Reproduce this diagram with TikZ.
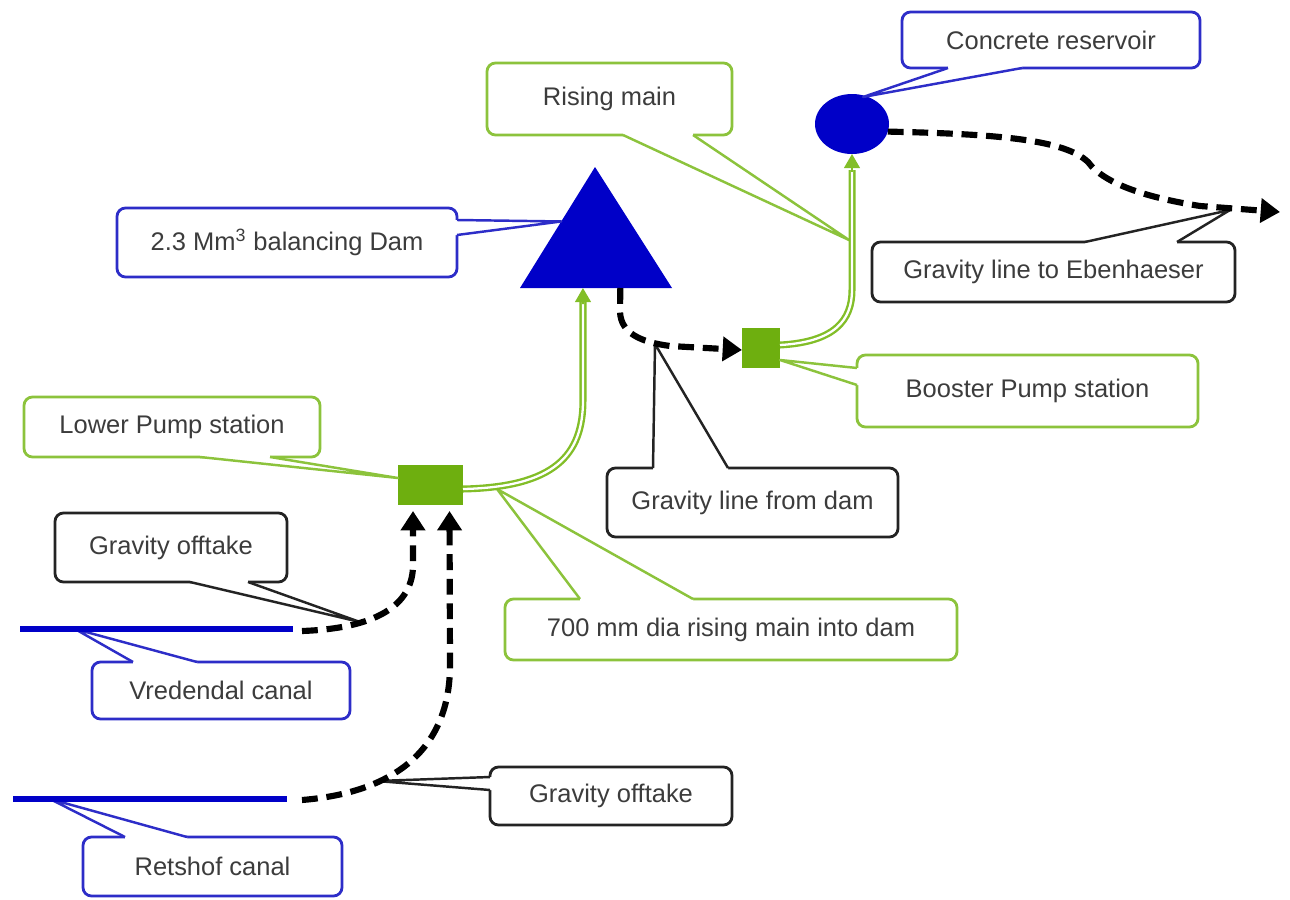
\documentclass[tikz,border=0pt]{standalone}
\usepackage{fontspec}
\setmainfont{Liberation Sans}
\usetikzlibrary{arrows.meta,calc,shapes.geometric}
\definecolor{lblblue}{RGB}{45,45,200}
\definecolor{damblue}{RGB}{0,0,200}
\definecolor{lblgreen}{RGB}{140,195,60}
\definecolor{pipegreen}{RGB}{130,190,40}
\definecolor{pumpgreen}{RGB}{110,175,15}
\definecolor{lblblack}{RGB}{35,35,35}
\definecolor{txt}{RGB}{60,60,60}
\newcommand{\mklbl}[6]{\node[lbl,draw=#1,minimum width=#4*0.02cm,minimum height=#5*0.02cm] (#2) at (#3) {#6};}
\newcommand{\mkptr}[7]{%
 \fill[white] ([shift={#4}]#2.#3) -- (#6) -- ([shift={#5}]#2.#3) -- ([shift={#5},shift={#7}]#2.#3) -- ([shift={#4},shift={#7}]#2.#3) -- cycle;
 \draw[#1,ptrline] ([shift={#4}]#2.#3) -- (#6) -- ([shift={#5}]#2.#3);}
\begin{document}
\begin{tikzpicture}[x=0.02cm,y=-0.02cm,
  lbl/.style={rectangle, rounded corners=0.17cm, line width=1.6pt, fill=white, inner sep=0pt, outer sep=0pt, text=txt, font=\fontsize{14.5}{17}\selectfont},
  ptrline/.style={line width=1.4pt, line join=round},
  pump/.style={rectangle, fill=pumpgreen, inner sep=0pt, outer sep=0pt},
  pipe/.style={draw=pipegreen, line width=1.35pt, double=white, double distance=1.3pt},
  pipehead/.style={pipegreen, line width=1pt, -{Triangle[length=8pt,width=9pt]}},
  grav/.style={line width=3.5pt, dash pattern=on 9pt off 5pt, -{Triangle[length=11pt,width=13.5pt]}},
  canal/.style={damblue, line width=3.9pt}]
\useasboundingbox (0,0) rectangle (1290,899);

% dam, reservoir, pumps
\coordinate (damA) at (595,167);
\coordinate (damL) at (520,288);
\coordinate (damR) at (672,288);
\fill[damblue] (damA) -- (damL) -- (damR) -- cycle;
\coordinate (damIn) at ($(damL)!0.414!(damR)$);
\coordinate (damOut) at ($(damL)!0.66!(damR)$);
\node[ellipse, fill=damblue, minimum width=1.48cm, minimum height=1.2cm, inner sep=0pt, outer sep=0pt] (res) at (852,124) {};
\node[pump, minimum width=0.76cm, minimum height=0.8cm] (bp) at (761,348) {};
\node[pump, minimum width=1.3cm, minimum height=0.8cm] (lp) at (430.5,485) {};

% canal ends and free ends
\coordinate (vcA) at (20,629); \coordinate (vcB) at (293,629);
\coordinate (rcA) at (13,799); \coordinate (rcB) at (287,799);
\coordinate (eben) at (1280,212);

% callout tips
\coordinate (tDam) at ($(damA)!0.45!(damL)$);
\coordinate (tRm) at (849,240);
\coordinate (tCr) at (863,97);
\coordinate (tGe) at (1230,210);
\coordinate (tGfd) at (655,344);
\coordinate (tMm) at (497,489);
\coordinate (tGo1) at (360,622);
\coordinate (tGo2) at (377,781);
\coordinate (tVc) at (75,629);
\coordinate (tRc) at (50,799);
\coordinate (tBp) at ([shift={(0,12)}]bp.east);
\coordinate (tLp) at ([shift={(0,-7)}]lp.west);

% labels
\mklbl{lblblue}{damlbl}{287,242.5}{340}{69}{2.3 Mm\textsuperscript{3} balancing Dam}
\mkptr{lblblue}{damlbl}{north east}{(0,12)}{(0,27)}{tDam}{(-3,0)}

\mklbl{lblgreen}{rmlbl}{609.5,99}{245}{72}{Rising main}
\mkptr{lblgreen}{rmlbl}{south west}{(136,0)}{(206,0)}{tRm}{(0,-3)}

\mklbl{lblblue}{crlbl}{1051,40}{298}{56}{Concrete reservoir}
\mkptr{lblblue}{crlbl}{south west}{(46,0)}{(120,0)}{tCr}{(0,-3)}

\mklbl{lblblack}{gelbl}{1053.5,272}{363}{60}{Gravity line to Ebenhaeser}
\mkptr{lblblack}{gelbl}{north west}{(213,0)}{(305,0)}{tGe}{(0,3)}

\mklbl{lblgreen}{bplbl}{1027.5,391}{341}{72}{Booster Pump station}
\mkptr{lblgreen}{bplbl}{north west}{(0,13)}{(0,30)}{tBp}{(3,0)}

\mklbl{lblblack}{gfdlbl}{752.5,502.5}{291}{69}{Gravity line from dam}
\mkptr{lblblack}{gfdlbl}{north west}{(46,0)}{(121,0)}{tGfd}{(0,3)}

\mklbl{lblgreen}{lplbl}{172,427}{296}{60}{Lower Pump station}
\mkptr{lblgreen}{lplbl}{south west}{(176,0)}{(246,0)}{tLp}{(0,-3)}

\mklbl{lblblack}{go1lbl}{171,547.5}{232}{69}{Gravity offtake}
\mkptr{lblblack}{go1lbl}{south west}{(135,0)}{(193,0)}{tGo1}{(0,-3)}

\mklbl{lblblue}{vclbl}{221,690.5}{258}{57}{Vredendal canal}
\mkptr{lblblue}{vclbl}{north west}{(41,0)}{(105,0)}{tVc}{(0,3)}

\mklbl{lblgreen}{mmlbl}{731,629.5}{452}{61}{700 mm dia rising main into dam}
\mkptr{lblgreen}{mmlbl}{north west}{(75,0)}{(188,0)}{tMm}{(0,3)}

\mklbl{lblblack}{go2lbl}{611,796}{242}{58}{Gravity offtake}
\mkptr{lblblack}{go2lbl}{north west}{(0,10)}{(0,23)}{tGo2}{(3,0)}

\mklbl{lblblue}{rclbl}{212.5,866.5}{259}{59}{Retshof canal}
\mkptr{lblblue}{rclbl}{north west}{(42,0)}{(104,0)}{tRc}{(0,3)}

% canals
\draw[canal] (vcA) -- (vcB);
\draw[canal] (rcA) -- (rcB);

% gravity offtakes
\draw[grav] ([shift={(9,2)}]vcB) .. controls (385,628) and (413,600) .. (413,565) -- ([shift={(-17.5,6)}]lp.south);
\draw[grav] ([shift={(15,1)}]rcB) .. controls (400,792) and (450,745) .. (450,665) -- ([shift={(19,6)}]lp.south);

% gravity line from dam
\draw[grav] (damOut) -- (620,312) .. controls (621,333) and (640,342) .. (670,346) -- ([shift={(0,2)}]bp.west);

% gravity line to Ebenhaeser
\draw[grav] (res.-12) .. controls (1000,134) and (1065,140) .. (1088,162) .. controls (1105,185) and (1150,198) .. (1200,206) -- (eben);

% rising mains
\draw[pipe] ([shift={(0,4)}]lp.east) .. controls (555,487) and (583,455) .. (583,400) -- (583,302);
\draw[pipehead] (583,304) -- (damIn);
\draw[pipe] ([shift={(0,-3)}]bp.east) .. controls (835,342) and (852,320) .. (852,290) -- (852,170);
\draw[pipehead] (852,172) -- (res.south);
\end{tikzpicture}
\end{document}
